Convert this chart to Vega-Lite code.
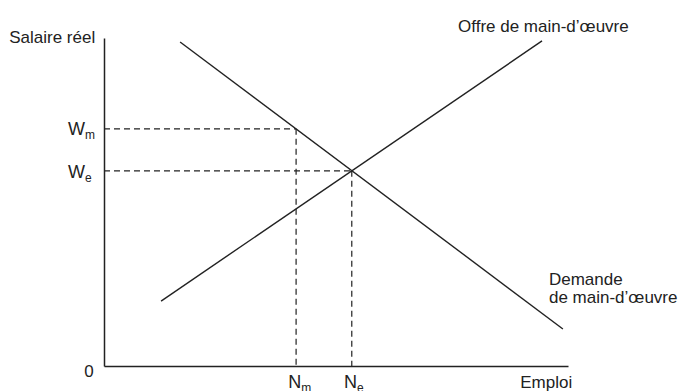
{
  "$schema": "https://vega.github.io/schema/vega-lite/v6.json",
  "width": 464,
  "height": 328,
  "autosize": {"type": "none"},
  "padding": {"left": 104, "top": 38, "right": 113, "bottom": 25},
  "background": "white",
  "view": {"stroke": null},
  "config": {
    "axis": {"domain": true, "domainColor": "#222222", "domainWidth": 1.5, "ticks": false, "labels": false, "grid": false, "title": null},
    "text": {"font": "Liberation Sans", "color": "#222222"}
  },
  "datasets": {
    "curves": [
      {"name": "Offre", "x": 12.3, "y": 19.8, "x2": 94.4, "y2": 99.1},
      {"name": "Demande", "x": 16.4, "y": 98.8, "x2": 98.9, "y2": 11.3}
    ],
    "guides": [
      {"x": 0, "y": 72.3, "x2": 41.4, "y2": 72.3},
      {"x": 41.4, "y": 72.3, "x2": 41.4, "y2": 0},
      {"x": 0, "y": 59.5, "x2": 53.4, "y2": 59.5},
      {"x": 53.4, "y": 59.5, "x2": 53.4, "y2": 0}
    ],
    "leftText": [
      {"t": "Offre de main-d’œuvre", "x": 76.3, "y": 101.8},
      {"t": "Demande", "x": 95.9, "y": 24.8},
      {"t": "de main-d’œuvre", "x": 95.9, "y": 19.2}
    ],
    "rightText": [
      {"t": "Salaire réel", "x": -1.9, "y": 98.5},
      {"t": "Emploi", "x": 100.9, "y": -6.7},
      {"t": "0", "x": -2.2, "y": -3.4}
    ],
    "symbols": [
      {"t": "W", "s": "m", "x": -4.1, "y": 70.4},
      {"t": "W", "s": "e", "x": -4.1, "y": 57.3},
      {"t": "N", "s": "m", "x": 42.5, "y": -6.7},
      {"t": "N", "s": "e", "x": 54.5, "y": -6.7}
    ]
  },
  "layer": [
    {
      "data": {"name": "guides"},
      "mark": {"type": "rule", "color": "#222222", "strokeWidth": 1.2, "strokeDash": [6, 4]},
      "encoding": {
        "x": {"field": "x", "type": "quantitative", "scale": {"domain": [0, 100], "nice": false}, "axis": {"orient": "bottom"}},
        "y": {"field": "y", "type": "quantitative", "scale": {"domain": [0, 100], "nice": false}, "axis": {"orient": "left"}},
        "x2": {"field": "x2"},
        "y2": {"field": "y2"}
      }
    },
    {
      "data": {"name": "curves"},
      "mark": {"type": "rule", "color": "#222222", "strokeWidth": 1.4},
      "encoding": {
        "x": {"field": "x", "type": "quantitative"},
        "y": {"field": "y", "type": "quantitative"},
        "x2": {"field": "x2"},
        "y2": {"field": "y2"}
      }
    },
    {
      "data": {"name": "leftText"},
      "mark": {"type": "text", "align": "left", "baseline": "alphabetic", "fontSize": 17},
      "encoding": {
        "x": {"field": "x", "type": "quantitative"},
        "y": {"field": "y", "type": "quantitative"},
        "text": {"field": "t"}
      }
    },
    {
      "data": {"name": "rightText"},
      "mark": {"type": "text", "align": "right", "baseline": "alphabetic", "fontSize": 17},
      "encoding": {
        "x": {"field": "x", "type": "quantitative"},
        "y": {"field": "y", "type": "quantitative"},
        "text": {"field": "t"}
      }
    },
    {
      "data": {"name": "symbols"},
      "mark": {"type": "text", "align": "right", "baseline": "alphabetic", "fontSize": 18},
      "encoding": {
        "x": {"field": "x", "type": "quantitative"},
        "y": {"field": "y", "type": "quantitative"},
        "text": {"field": "t"}
      }
    },
    {
      "data": {"name": "symbols"},
      "mark": {"type": "text", "align": "left", "baseline": "alphabetic", "fontSize": 12, "dy": 4},
      "encoding": {
        "x": {"field": "x", "type": "quantitative"},
        "y": {"field": "y", "type": "quantitative"},
        "text": {"field": "s"}
      }
    }
  ]
}
